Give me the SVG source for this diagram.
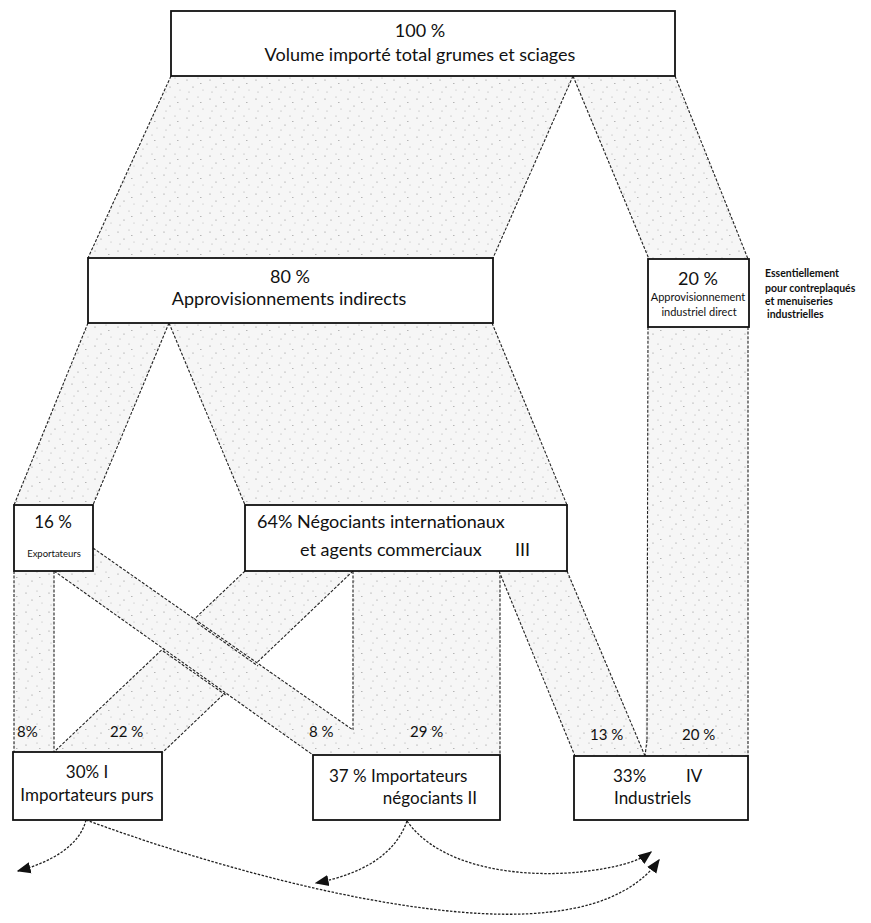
<svg xmlns="http://www.w3.org/2000/svg" width="871" height="923" viewBox="0 0 871 923">
<style>
.box{fill:#fff;stroke:#111;stroke-width:1.8}
.band{fill:url(#stip);stroke:none}
.edge{fill:none;stroke:#222;stroke-width:1.1;stroke-dasharray:3 1.6}
.arr{fill:none;stroke:#222;stroke-width:1.3;stroke-dasharray:2.5 1.5;marker-end:url(#ah)}
text{font-family:Lato,"Liberation Sans",sans-serif;fill:#111}
.t18{font-size:18px}
.t17{font-size:17px}
.t15{font-size:15px}
.sm{font-size:11px}
.xs{font-size:9.5px}
.note{font-size:10.5px;font-weight:bold}
.mid{text-anchor:middle}
</style>
<defs>
<pattern id="stip" width="23" height="19" patternUnits="userSpaceOnUse">
<rect width="23" height="19" fill="#f6f6f6"/>
<circle cx="3" cy="4" r="0.6" fill="#888"/>
<circle cx="14" cy="2" r="0.5" fill="#999"/>
<circle cx="9" cy="11" r="0.6" fill="#888"/>
<circle cx="19" cy="14" r="0.5" fill="#aaa"/>
<circle cx="5" cy="16" r="0.5" fill="#999"/>
<rect x="16" y="7" width="1.5" height="0.7" fill="#999"/>
</pattern>
<marker id="ah" viewBox="0 0 10 10" refX="9" refY="5" markerWidth="14" markerHeight="14" markerUnits="userSpaceOnUse" orient="auto">
<path d="M0,1 L10,5 L0,9 z" fill="#111"/>
</marker>
</defs>
<rect width="871" height="923" fill="#fff"/>

<g id="connectors">
<!-- top box to level 2 -->
<polygon class="band" points="171,76 573,76 493,258 88,258"/>
<line class="edge" x1="171" y1="76" x2="88" y2="258"/>
<line class="edge" x1="573" y1="76" x2="493" y2="258"/>
<polygon class="band" points="573,76 675,76 748,259 649,259"/>
<line class="edge" x1="573" y1="76" x2="649" y2="259"/>
<line class="edge" x1="675" y1="76" x2="748" y2="259"/>
<!-- 80% to 16% / 64% -->
<polygon class="band" points="88,323 169,323 93,505 14,505"/>
<line class="edge" x1="88" y1="323" x2="14" y2="505"/>
<line class="edge" x1="169" y1="323" x2="93" y2="505"/>
<polygon class="band" points="169,323 492,323 567,505 245,505"/>
<line class="edge" x1="169" y1="323" x2="245" y2="505"/>
<line class="edge" x1="492" y1="323" x2="567" y2="505"/>
<!-- 20% direct -->
<polygon class="band" points="648,327 748,327 748,756 645,756"/>
<line class="edge" x1="648" y1="327" x2="647" y2="740"/>
<line class="edge" x1="647" y1="740" x2="645" y2="756"/>
<line class="edge" x1="748" y1="327" x2="748" y2="756"/>
<!-- level 3 to level 4 -->
<polygon class="band" points="14,571 54,571 54,752 14,752"/>
<line class="edge" x1="14" y1="571" x2="14" y2="752"/>
<line class="edge" x1="54" y1="571" x2="54" y2="752"/>
<polygon class="band" points="245,571 353,571 163,752 54,752"/>
<line class="edge" x1="245" y1="571" x2="54" y2="752"/>
<line class="edge" x1="353" y1="571" x2="163" y2="752"/>
<polygon class="band" points="353,571 500,571 500,755 353,755"/>
<line class="edge" x1="353" y1="571" x2="353" y2="730"/>
<line class="edge" x1="500" y1="571" x2="500" y2="755"/>
<polygon class="band" points="499,571 567,571 645,756 575,756"/>
<line class="edge" x1="499" y1="571" x2="575" y2="756"/>
<line class="edge" x1="567" y1="571" x2="645" y2="756"/>
<!-- crossing 8% band from exporters -->
<polygon class="band" points="54,571 93,571 93,548 353,730 353,755 313,755"/>
<line class="edge" x1="54" y1="571" x2="313" y2="755"/>
<line class="edge" x1="93" y1="548" x2="353" y2="730"/>
<line class="edge" x1="197" y1="623" x2="258" y2="666"/>
<line class="edge" x1="163" y1="651" x2="227" y2="696"/>
<!-- band labels -->
<text class="t15" x="17" y="737">8%</text>
<text class="t15" x="110" y="737">22 %</text>
<text class="t15" x="309" y="737">8 %</text>
<text class="t15" x="410" y="737">29 %</text>
<text class="t15" x="590" y="740">13 %</text>
<text class="t15" x="682" y="740">20 %</text>
<!-- curved arrows -->
<path class="arr" d="M86,820 C80,845 52,862 18,871"/>
<path class="arr" d="M86,820 C250,880 440,925 550,912 C615,905 645,880 659,860"/>
<path class="arr" d="M407,821 C395,855 362,874 316,883"/>
<path class="arr" d="M407,821 C440,868 520,878 580,872 C615,868 638,862 651,852"/>
</g>

<g id="n-total">
<rect class="box" x="171" y="11" width="504" height="65"/>
<text class="t18 mid" x="420" y="37">100 %</text>
<text class="t18 mid" x="420" y="61">Volume importé total  grumes et sciages</text>
</g>

<g id="n-indirect">
<rect class="box" x="88" y="258" width="405" height="65"/>
<text class="t18 mid" x="290" y="283">80 %</text>
<text class="t18 mid" x="289" y="305">Approvisionnements indirects</text>
</g>

<g id="n-direct">
<rect class="box" x="648" y="259" width="101" height="68"/>
<text class="mid" style="font-size:18px" x="698" y="285">20 %</text>
<text class="sm mid" x="698" y="301">Approvisionnement</text>
<text class="sm mid" x="699" y="316">industriel direct</text>
</g>

<g id="n-note">
<text class="note" x="765" y="277">Essentiellement</text>
<text class="note" x="765" y="292">pour contreplaqués</text>
<text class="note" x="765" y="305">et menuiseries</text>
<text class="note" x="767" y="318">industrielles</text>
</g>

<g id="n-export">
<rect class="box" x="14" y="505" width="79" height="66"/>
<text class="mid" style="font-size:17px" x="53" y="528">16 %</text>
<text class="xs mid" x="54" y="557">Exportateurs</text>
</g>

<g id="n-negociants">
<rect class="box" x="245" y="505" width="322" height="66"/>
<text class="t18" x="257" y="528">64% Négociants internationaux</text>
<text class="t18" x="300" y="556"><tspan>et agents commerciaux </tspan><tspan x="515">III</tspan></text>
</g>

<g id="n-purs">
<rect class="box" x="13" y="752" width="149" height="68"/>
<text class="t17 mid" x="87" y="778">30% I</text>
<text class="t17 mid" x="87" y="801">Importateurs purs</text>
</g>

<g id="n-impneg">
<rect class="box" x="313" y="755" width="187" height="65"/>
<text class="t17" x="329" y="782">37 % Importateurs</text>
<text class="t17" x="477" y="804" text-anchor="end">négociants II</text>
</g>

<g id="n-industriels">
<rect class="box" x="574" y="756" width="174" height="64"/>
<text class="t17" x="613" y="782"><tspan>33% </tspan><tspan x="686">IV</tspan></text>
<text class="t17" x="614" y="804">Industriels</text>
</g>
</svg>
